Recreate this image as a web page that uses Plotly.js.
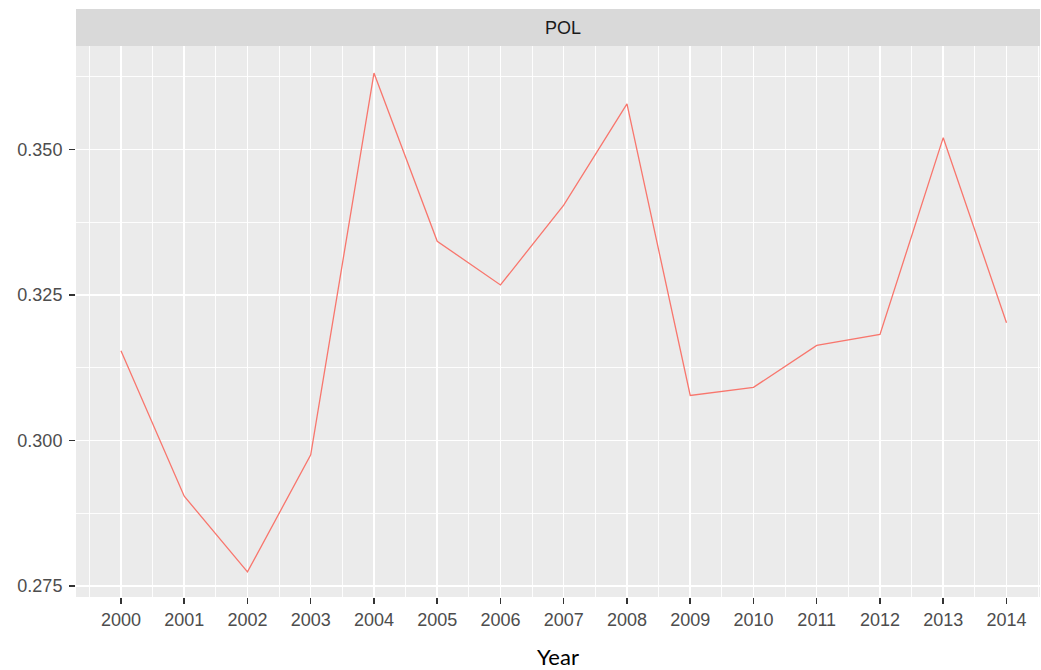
<!DOCTYPE html>
<html>
<head>
<meta charset="utf-8">
<script src="https://cdn.plot.ly/plotly-3.0.1.min.js"></script>
<style>html,body{margin:0;padding:0;background:#fff;}#chart{width:1041px;height:670px;}</style>
</head>
<body>
<div id="chart"></div>
<script>
const years = [2000, 2001, 2002, 2003, 2004, 2005, 2006, 2007, 2008, 2009, 2010, 2011, 2012, 2013, 2014];
const polValues = [0.3154, 0.2904, 0.2774, 0.2975, 0.3631, 0.3342, 0.3267, 0.3404, 0.3578, 0.3077, 0.3091, 0.3163, 0.3182, 0.3520, 0.3202];
const panelLabel = "POL";
const xTitle = "Year";
const yTickVals = [0.275, 0.300, 0.325, 0.350];

const trace = {
  x: years, y: polValues, type: 'scatter', mode: 'lines',
  line: {color: '#F8766D', width: 1.3}, hoverinfo: 'x+y', showlegend: false
};

const plotH = 551;
const layout = {
  width: 1041, height: 670,
  margin: {l: 76, r: 1, t: 46, b: 73, pad: 0},
  paper_bgcolor: '#ffffff', plot_bgcolor: '#EBEBEB',
  font: {family: '"Liberation Sans", Arial, sans-serif', color: '#4d4d4d', size: 18},
  showlegend: false,
  xaxis: {
    range: [1999.289, 2014.53], tickmode: 'linear', tick0: 2000, dtick: 1, tickformat: 'd',
    showgrid: true, gridcolor: '#ffffff', gridwidth: 1.5, zeroline: false, showline: false,
    ticks: 'outside', ticklen: 6, tickwidth: 1.5, tickcolor: '#333333',
    tickfont: {size: 18, color: '#4d4d4d'},
    minor: {tick0: 1999.5, dtick: 1, showgrid: true, gridcolor: '#ffffff', gridwidth: 0.9, ticks: ''},
    title: {text: xTitle, font: {family: 'Lato, "Open Sans", sans-serif', size: 22, color: '#000000'}, standoff: 22},
    fixedrange: true
  },
  yaxis: {
    range: [0.27308, 0.36775], tickmode: 'array', tickvals: yTickVals, tickformat: '.3f',
    showgrid: true, gridcolor: '#ffffff', gridwidth: 1.5, zeroline: false, showline: false,
    ticks: 'outside', ticklen: 6, tickwidth: 1.5, tickcolor: '#333333',
    tickfont: {size: 18, color: '#4d4d4d'}, ticklabelstandoff: 3,
    minor: {tick0: 0.2625, dtick: 0.025, showgrid: true, gridcolor: '#ffffff', gridwidth: 0.9, ticks: ''},
    fixedrange: true
  },
  shapes: [{
    type: 'rect', xref: 'paper', yref: 'paper', x0: 0, x1: 1, y0: 1, y1: 1 + 37 / plotH,
    fillcolor: '#D9D9D9', line: {width: 0}, layer: 'below'
  }],
  annotations: [{
    text: panelLabel, xref: 'paper', yref: 'paper', x: 0.5057, y: 1 + 18.5 / plotH,
    xanchor: 'center', yanchor: 'middle', showarrow: false,
    font: {size: 18, color: '#1a1a1a', family: '"Liberation Sans", Arial, sans-serif'}
  }]
};

Plotly.newPlot('chart', [trace], layout, {displayModeBar: false, staticPlot: true});
</script>
</body>
</html>
